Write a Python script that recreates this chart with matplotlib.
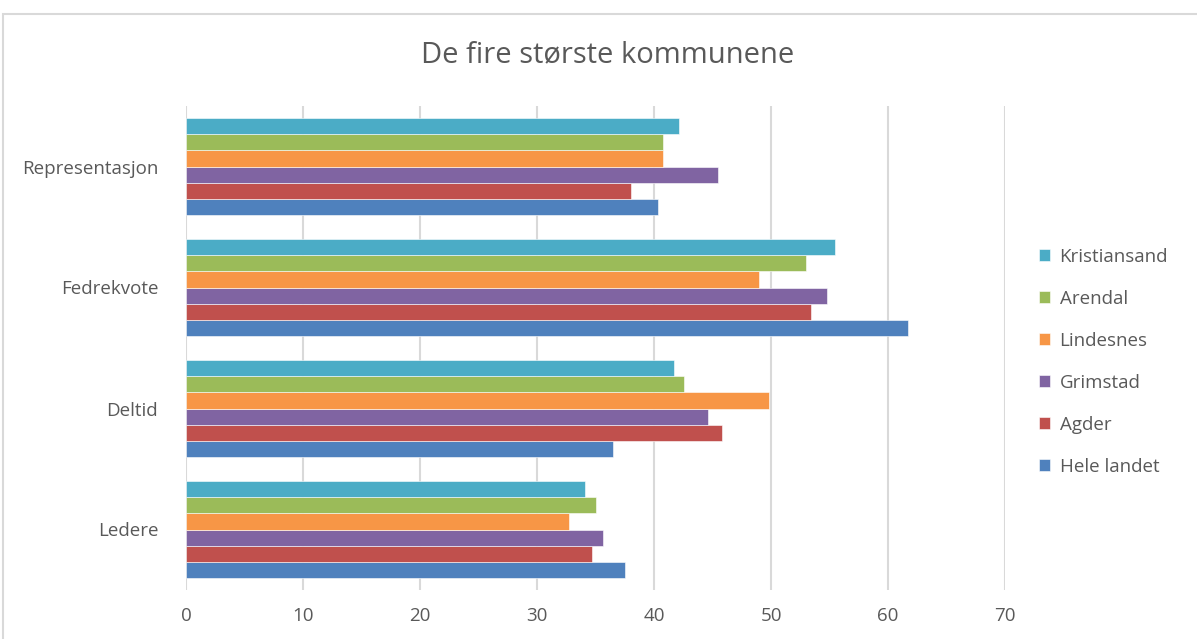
import numpy as np
import matplotlib.pyplot as plt
from matplotlib.patches import Rectangle

plt.rcParams['font.family'] = ['Open Sans', 'DejaVu Sans']

categories = ['Ledere', 'Deltid', 'Fedrekvote', 'Representasjon']
series = ['Hele landet', 'Agder', 'Grimstad', 'Lindesnes', 'Arendal', 'Kristiansand']
hele_landet = [37.5, 36.5, 61.7, 40.3]
agder = [34.7, 45.8, 53.4, 38.0]
grimstad = [35.6, 44.6, 54.8, 45.5]
lindesnes = [32.7, 49.8, 49.0, 40.8]
arendal = [35.0, 42.6, 53.0, 40.8]
kristiansand = [34.1, 41.7, 55.5, 42.1]
values = [hele_landet, agder, grimstad, lindesnes, arendal, kristiansand]
colors = ['#4F81BD', '#C0504D', '#8064A2', '#F79646', '#9BBB59', '#4BACC6']

fig = plt.figure(figsize=(11.97, 6.39), dpi=100)
fig.patches.append(Rectangle((3/1197, -0.2), 1.2, 1.2 - 14/639, transform=fig.transFigure,
                             fill=False, edgecolor='#D9D9D9', linewidth=1.5))
ax = fig.add_axes([186/1197, 1 - 590/639, 819/1197, 484/639])

n = len(series)
group = 0.8
h = group / n
y = np.arange(len(categories))
for i, (name, vals) in enumerate(zip(series, values)):
    ax.barh(y - group/2 + h/2 + i*h, vals, height=h, color=colors[i],
            edgecolor='white', linewidth=0.4, label=name, zorder=3)

ax.set_xlim(0, 70)
ax.set_ylim(-0.5, len(categories) - 0.5)
ax.set_xticks(range(0, 71, 10))
ax.set_yticks(y)
ax.set_yticklabels(categories)
ax.grid(axis='x', color='#D9D9D9', linewidth=1.5, zorder=0)
for s in ax.spines.values():
    s.set_visible(False)
ax.tick_params(axis='both', length=0, labelsize=13.5, colors='#595959')
ax.tick_params(axis='x', pad=12)
ax.tick_params(axis='y', pad=20)

fig.text(608/1197, 1 - 55/639, 'De fire største kommunene', ha='center', va='center',
         fontsize=21, color='#595959')

handles, labels = ax.get_legend_handles_labels()
fig.legend(handles[::-1], labels[::-1], loc='center left', bbox_to_anchor=(1022/1197, 1 - 362/639),
           frameon=False, fontsize=13.5, labelcolor='#595959', handlelength=0.6, handleheight=0.6,
           labelspacing=1.28, handletextpad=0.5)

fig.savefig('out.png', dpi=100)
